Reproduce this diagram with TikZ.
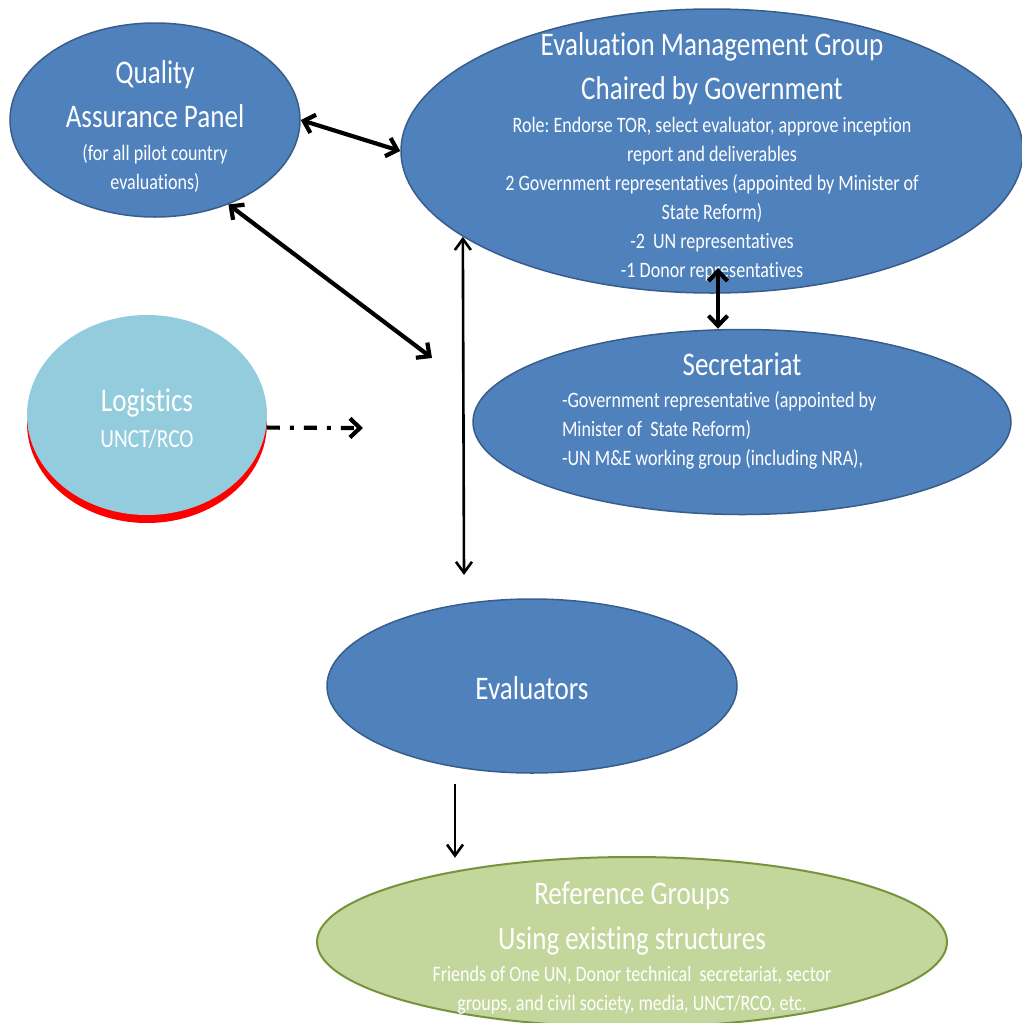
\documentclass[tikz,border=0pt]{standalone}
\usepackage{fontspec}
\setmainfont{Carlito}[FakeStretch=0.82, Ligatures=NoCommon]
\usetikzlibrary{shapes.geometric,arrows.meta,shadows}
\frenchspacing

\definecolor{boxblue}{HTML}{4F81BD}
\definecolor{boxline}{HTML}{385D8A}
\definecolor{logblue}{HTML}{93CDDD}
\definecolor{refgreen}{HTML}{C3D69B}
\definecolor{refline}{HTML}{77933C}

\newcommand\hdfont{\fontsize{33}{44}\selectfont}
\newcommand\smfont{\fontsize{22}{29}\selectfont\lineskiplimit=-100pt\relax}
\newcommand\padtop[1]{\rule{0pt}{#1}}

\tikzset{
	group/.style={ellipse, draw=boxline, line width=1.5pt, fill=boxblue, text=white,
		align=center, inner sep=-200pt, font=\smfont},
	link/.style={line width=4.2pt, >={Straight Barb[length=10pt,width=19pt]}},
	thinlink/.style={line width=2.6pt, >={Straight Barb[length=11pt,width=16pt]}},
}

\begin{document}
\begin{tikzpicture}[x=1pt, y=-1pt]
		\useasboundingbox (0,0) rectangle (1021,1023);
		
		%groups
		\node[group, minimum width=290, minimum height=194] (qa) at (155,120)
			{\padtop{36pt}{\hdfont Quality}\\[15pt]{\hdfont Assurance Panel}\\[4.5pt](for all pilot country\\evaluations)};
		\node[group, minimum width=622, minimum height=284] (emg) at (712,151)
			{\padtop{35pt}{\hdfont Evaluation Management Group}\\[15pt]{\hdfont Chaired by Government}\\[3.5pt]
			Role: Endorse TOR, select evaluator, approve inception\\report and deliverables\\
			2 Government representatives (appointed by Minister of\\State Reform)\\
			-2\ \ UN representatives\\-1 Donor representatives};
		\node[group, align=left, minimum width=538, minimum height=185] (sec) at (742,422)
			{\makebox[360pt]{\hdfont Secretariat}\\[3.5pt]
			-Government representative (appointed by\\Minister of\ \ State Reform)\\
			-UN M\&E working group (including NRA),\\[-3.5pt]\mbox{}};
		\node[group, draw=none, fill=logblue, minimum width=240, minimum height=200,
			drop shadow={shadow xshift=0pt, shadow yshift=-8pt, shadow scale=1, fill=red, draw=none, opacity=1}]
			(log) at (147,415) {\padtop{30pt}{\hdfont Logistics}\\[6.5pt]{\fontsize{26}{29}\selectfont UNCT/RCO}};
		\node[group, minimum width=410, minimum height=174] (ev) at (532,686) {\padtop{28pt}\hdfont Evaluators};
		\node[group, draw=refline, fill=refgreen, line width=2pt, minimum width=630, minimum height=170] (ref) at (632,942)
			{\padtop{35pt}{\hdfont Reference Groups}\\[16pt]{\hdfont Using existing structures}\\[2.5pt]
			Friends of One UN, Donor technical\ \ secretariat, sector\\groups, and civil society, media, UNCT/RCO, etc.};
		
		%free ends
		\coordinate (hub) at (432,358);
		\coordinate (logend) at (363,428);
		\coordinate (evtop) at (464,575);
		\coordinate (emgsec) at (718,268);
		
		%links
		\draw[link, <->] (qa.east) -- (emg.west);
		\draw[link, <->] (qa.-49) -- (hub);
		\draw[link, ->, dash pattern=on 13pt off 10pt on 4pt off 10pt] (log.-6) -- (logend);
		\draw[thinlink, <->] (emg.199) -- (evtop);
		\draw[link, <->] (emgsec) -- (emgsec |- sec.north);
		\draw[thinlink, ->] (ev.south) ++(-77,10) -- ++(0,74);
\end{tikzpicture}
\end{document}
